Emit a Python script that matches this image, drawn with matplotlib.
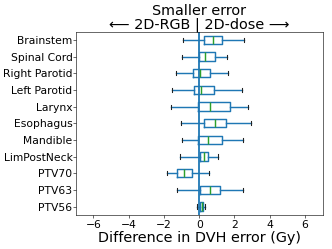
import matplotlib
matplotlib.use("Agg")
import matplotlib.pyplot as plt

# structures, top to bottom
structures = ['Brainstem', 'Spinal Cord', 'Right Parotid', 'Left Parotid', 'Larynx',
              'Esophagus', 'Mandible', 'LimPostNeck', 'PTV70', 'PTV63', 'PTV56']

# box stats (Gy)
whislo = [-0.91, -0.97, -1.29, -1.54, -1.62, -1.03, -0.95, -1.10, -1.81, -1.23, -0.13]
q1 = [0.25, 0.00, -0.36, -0.32, -0.04, 0.27, -0.04, 0.02, -1.27, 0.02, 0.02]
med = [0.76, 0.34, 0.02, 0.12, 0.59, 0.92, 0.52, 0.25, -0.86, 0.61, 0.14]
q3 = [1.32, 0.88, 0.59, 0.84, 1.73, 1.51, 1.28, 0.50, -0.40, 1.20, 0.20]
whishi = [2.55, 1.58, 1.66, 2.44, 2.75, 2.92, 2.46, 1.05, 0.54, 2.46, 0.34]

stats = []
for i, name in enumerate(structures):
    stats.append(dict(label=name, whislo=whislo[i], q1=q1[i], med=med[i],
                      q3=q3[i], whishi=whishi[i], fliers=[]))

# default 6.4x4.8 figure, saved small
fig, ax = plt.subplots(figsize=(6.4, 4.8))
n = len(structures)
ax.bxp(stats, positions=list(range(n, 0, -1)), vert=False, widths=0.5,
       showfliers=False,
       boxprops=dict(color='C0', lw=2), whiskerprops=dict(color='C0', lw=2),
       medianprops=dict(color='C2', lw=2), capprops=dict(color='#222222', lw=1.5))
ax.axvline(0, color='C0', lw=2.5)
ax.set_xlim(-7, 7)
ax.set_ylim(0.5, n + 0.5)
ax.set_xticks([-6, -4, -2, 0, 2, 4, 6])
ax.tick_params(labelsize=15)
ax.tick_params(axis='y', pad=1)
ax.set_xlabel('Difference in DVH error (Gy)', fontsize=20, labelpad=2)
ax.set_title('Smaller error\n\u27f5 2D-RGB | 2D-dose \u27f6', fontsize=20,
             linespacing=0.9, pad=2)

fig.subplots_adjust(left=0.228, right=0.972, top=0.873, bottom=0.137)
fig.savefig('out.png', dpi=332 / 6.4)
